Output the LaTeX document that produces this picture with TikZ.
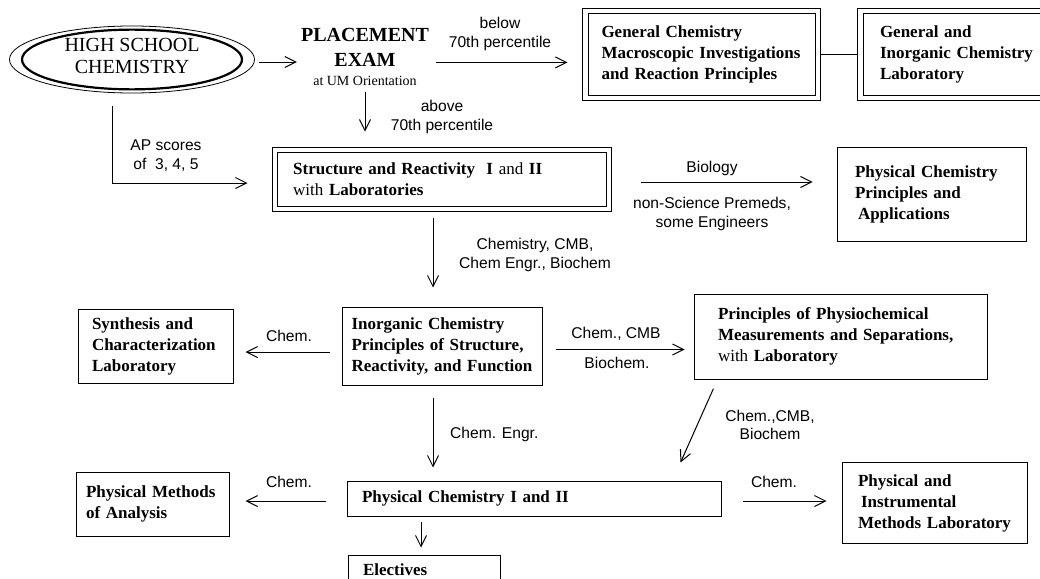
\documentclass[tikz,border=0pt]{standalone}
\usepackage{fontspec}
\setmainfont{Liberation Serif}
\newfontfamily\lblfont{Liberation Sans}
\usetikzlibrary{arrows.meta,shapes.geometric}
\begin{document}
\begin{tikzpicture}[x=1pt,y=-1pt,
  box/.style={draw, rectangle, line width=1pt, inner sep=0pt, align=left,
    font=\bfseries\fontsize{17}{21}\selectfont,
    execute at begin node={\hyphenpenalty=10000\exhyphenpenalty=10000}},
  lbl/.style={font=\lblfont\fontsize{15.6}{18.5}\selectfont, align=center, inner sep=0pt},
  arr/.style={line width=1pt, -{Straight Barb[length=11pt,width=11pt]}},
  con/.style={line width=1pt}]
\useasboundingbox[fill=white] (0,0) rectangle (1040,578);

% ellipse
\node[ellipse, draw, line width=2.2pt, minimum width=220pt, minimum height=59pt, inner sep=0pt,
      align=center, font=\fontsize{20}{22}\selectfont] (hs) at (132,59.5)
      {HIGH SCHOOL\\CHEMISTRY\rule[-7pt]{0pt}{7pt}};
\draw[line width=0.8pt] (hs.center) ellipse [x radius=122.5pt, y radius=33.5pt];

% placement exam
\node[anchor=north, align=center, inner sep=0pt, font=\bfseries\fontsize{20}{25}\selectfont] (pe) at (365,28.5)
  {PLACEMENT\\EXAM\\[-6pt]{\mdseries\fontsize{14}{16}\selectfont at UM Orientation}};

% double-framed boxes (inner frame = node, outer frame drawn around)
\node[box, minimum width=227pt, minimum height=81pt, text width=200pt] (gc) at (701.5,54.5)
  {General Chemistry\\Macroscopic Investigations\\and Reaction Principles};
\node[box, minimum width=190pt, minimum height=81pt, text width=156pt] (gil) at (958,54.5)
  {General and\\Inorganic Chemistry\\Laboratory};
\node[box, minimum width=329pt, minimum height=53.3pt, text width=298pt] (sr) at (442.2,179.4)
  {Structure and Reactivity~~I {\mdseries and} II\\{\mdseries with} Laboratories};
\foreach \n in {gc,gil,sr}
  \draw[con] ([shift={(-4.7pt,4.7pt)}]\n.north west) rectangle ([shift={(4.7pt,-4.7pt)}]\n.south east);

% single-framed boxes
\node[box, minimum width=189pt, minimum height=94pt, text width=153pt] (pcpa) at (931.5,194)
  {Physical Chemistry\\Principles and\\\hspace*{3pt}Applications};
\node[box, minimum width=200pt, minimum height=78pt, text width=181pt] (ic) at (442,346)
  {Inorganic Chemistry\\Principles of Structure,\\Reactivity, and Function};
\node[box, minimum width=155pt, minimum height=74pt, text width=127pt] (sc) at (155.5,346.5)
  {Synthesis and\\Characterization\\Laboratory};
\node[box, minimum width=293pt, minimum height=85pt, text width=245pt] (ppm) at (840.5,336.5)
  {Principles of Physiochemical\\Measurements and Separations,\\{\mdseries with} Laboratory};
\node[box, minimum width=374pt, minimum height=35pt, text width=344pt] (pc) at (534,498.5)
  {Physical Chemistry I and II};
\node[box, minimum width=153pt, minimum height=64pt, text width=133pt] (pma) at (152.5,504)
  {Physical Methods\\of Analysis};
\node[box, minimum width=185pt, minimum height=81pt, text width=153pt] (piml) at (934.5,503)
  {Physical and\\\hspace*{3pt}Instrumental\\Methods Laboratory};
\node[box, minimum width=152pt, minimum height=30pt, text width=122pt] (el) at (424,570)
  {Electives};

% labels
\node[lbl] (lb1) at (500,34) {below\\70th percentile};
\node[lbl] (lb2) at (442,117) {above\\70th percentile};
\node[lbl] (lb3) at (166,155.5) {AP scores\\of\ \ 3, 4, 5};
\node[lbl] (lb4) at (712,168) {Biology};
\node[lbl] (lb5) at (712,214) {non-Science Premeds,\\some Engineers};
\node[lbl] (lb6) at (535,255) {Chemistry, CMB,\\Chem Engr., Biochem};
\node[lbl] (lb7) at (289,336) {Chem.};
\node[lbl] (lb8) at (616,334) {Chem., CMB};
\node[lbl] (lb9) at (617,362.5) {Biochem.};
\node[lbl] (lb10) at (770,425) {Chem.,CMB,\\Biochem};
\node[lbl, anchor=west] (lb11) at (450,434) {Chem. Engr.};
\node[lbl] (lb12) at (289,482) {Chem.};
\node[lbl] (lb13) at (774,482) {Chem.};

% connectors
\draw[arr, shorten <=16pt, shorten >=4pt] ([yshift=-2.5pt]hs.east) -- ([yshift=-2.5pt]hs.east -| pe.west);
\draw[arr, shorten <=7pt, shorten >=20pt] ([yshift=-5pt]pe.east) -- ([yshift=-5pt]pe.east -| gc.west);
\draw[con, shorten <=4.7pt, shorten >=4.7pt] (gc.east) -- (gc.east -| gil.west);
\draw[arr, shorten <=6pt, shorten >=20.7pt] (pe.south) -- (pe.south |- sr.north);
\draw[arr, shorten <=16pt, shorten >=29.7pt] ([xshift=-20pt]hs.south) |- ([yshift=-3.6pt]sr.west);
\draw[arr, shorten <=33.3pt, shorten >=24pt] ([yshift=-2.6pt]sr.east) -- ([yshift=-2.6pt]sr.east -| pcpa.west);
\draw[arr, shorten <=11pt, shorten >=19pt] ([xshift=-9.2pt]sr.south) -- ([xshift=-9.2pt]sr.south |- ic.north);
\draw[arr, shorten <=12pt, shorten >=12pt] ([yshift=-6pt]ic.west) -- ([yshift=-6pt]ic.west -| sc.east);
\draw[arr, shorten <=13pt, shorten >=9pt] ([yshift=-3.5pt]ic.east) -- ([yshift=-3.5pt]ic.east -| ppm.west);
\draw[arr, shorten <=10pt, shorten >=19.7pt] ([xshift=24pt]ppm.south west) -- ([xshift=-49pt]pc.north east);
\draw[arr, shorten <=12pt, shorten >=13pt] ([xshift=-9pt]ic.south) -- ([xshift=-9pt]ic.south |- pc.north);
\draw[arr, shorten <=21pt, shorten >=16pt] ([yshift=-2.5pt]pc.west) -- ([yshift=-2.5pt]pc.west -| pma.east);
\draw[arr, shorten <=21pt, shorten >=15pt] ([yshift=-2.5pt]pc.east) -- ([yshift=-2.5pt]pc.east -| piml.west);
\draw[arr, shorten <=5pt, shorten >=7pt] ([xshift=-3pt]el.north |- pc.south) -- ([xshift=-3pt]el.north);
\end{tikzpicture}
\end{document}
